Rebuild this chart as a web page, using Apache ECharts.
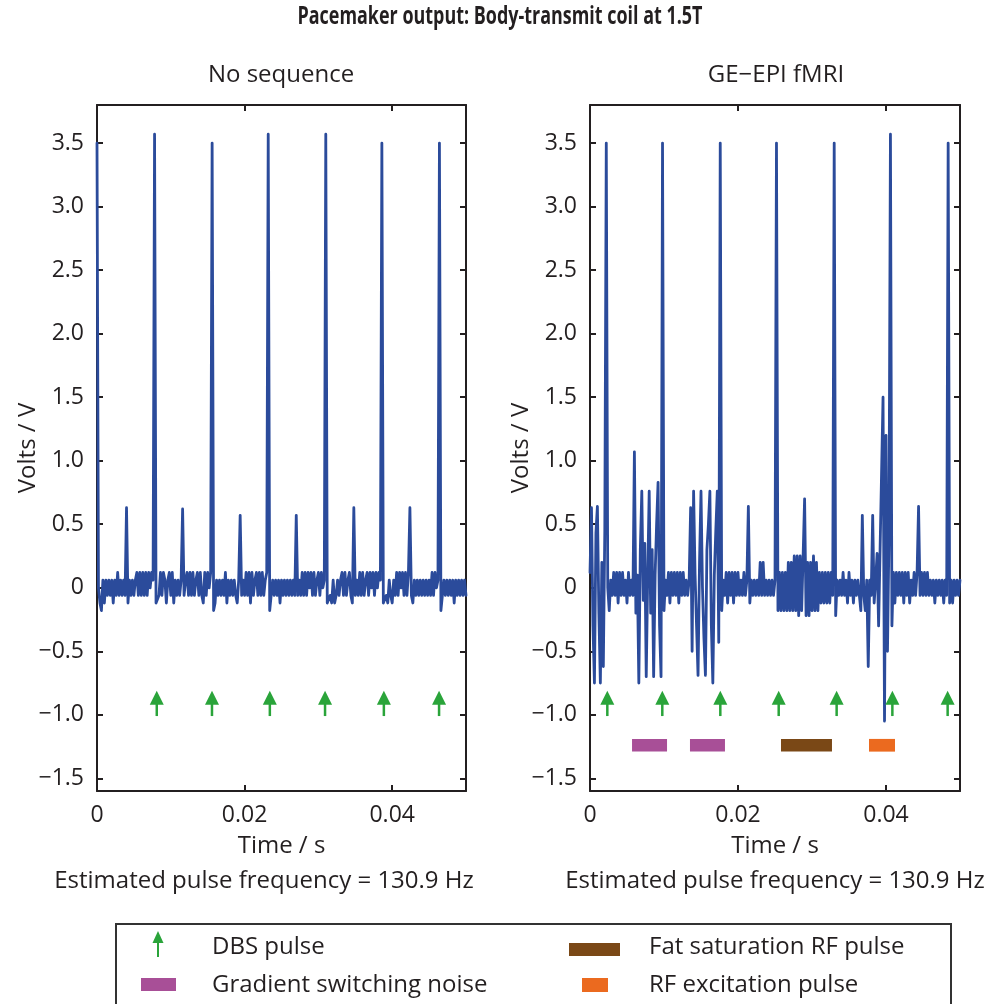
<!DOCTYPE html>
<html><head><meta charset="utf-8">
<script src="https://cdn.jsdelivr.net/npm/echarts@6/dist/echarts.min.js"></script>
<style>html,body{margin:0;padding:0;background:#fff}#c{width:1000px;height:1004px}</style>
</head><body><div id="c"></div>
<script>
// sampling interval of the recorded traces (s)
const DT = 0.0002;
const xTicks = [0, 0.02, 0.04];
const yTicks = [-1.5, -1, -0.5, 0, 0.5, 1, 1.5, 2, 2.5, 3, 3.5];

// Pacemaker output, no sequence (V), one value per sample
const voltsNoSeq = [
 3.5, 0.0, -0.12, -0.18, 0.06, -0.12, 0.06, -0.06, 0.06, -0.06,
 0.06, -0.12, 0.06, -0.06, 0.12, -0.06, 0.06, -0.06, 0.06, -0.06,
 0.63, -0.12, 0.06, -0.06, 0.06, -0.06, 0.06, 0.12, -0.06, 0.12,
 -0.06, 0.12, -0.06, 0.12, -0.06, 0.12, 0.0, 0.12, 0.06, 3.57,
 -0.12, -0.12, -0.06, 0.12, -0.06, 0.12, 0.06, -0.12, 0.06, 0.12,
 -0.06, 0.12, -0.12, 0.06, -0.06, 0.06, -0.06, 0.06, 0.62, -0.06,
 0.06, 0.12, -0.06, 0.12, -0.06, 0.12, -0.06, 0.06, 0.12, -0.06,
 0.12, -0.06, -0.12, 0.12, -0.06, 0.12, 0.0, 0.12, 3.5, -0.18,
 -0.12, 0.06, -0.06, 0.06, -0.06, 0.06, -0.06, 0.12, -0.12, 0.06,
 -0.06, 0.06, -0.06, 0.06, -0.06, -0.12, 0.06, 0.57, -0.06, 0.06,
 -0.06, 0.12, -0.06, 0.12, -0.12, 0.12, -0.06, 0.06, 0.12, -0.06,
 0.12, -0.06, 0.12, -0.06, 0.06, 0.12, 3.57, -0.18, -0.06, 0.06,
 -0.06, 0.06, -0.06, 0.06, -0.12, 0.06, -0.06, 0.06, -0.06, 0.06,
 -0.06, 0.06, -0.06, 0.06, -0.06, 0.57, -0.06, 0.06, -0.06, 0.12,
 -0.06, 0.12, -0.06, 0.12, 0.0, 0.12, -0.06, 0.12, -0.06, 0.06,
 0.12, -0.06, 0.12, 0.0, 0.06, 3.57, -0.12, -0.12, -0.06, -0.12,
 0.06, -0.12, -0.06, 0.06, -0.06, 0.06, 0.12, -0.06, 0.12, -0.06,
 0.06, 0.12, -0.06, -0.12, 0.63, -0.06, 0.06, -0.06, 0.12, -0.06,
 0.12, -0.06, 0.06, 0.12, -0.06, 0.12, 0.0, 0.12, -0.06, 0.12,
 0.0, 0.12, 0.06, 3.5, -0.12, -0.12, -0.06, -0.12, 0.06, -0.06,
 -0.12, 0.06, -0.06, 0.12, -0.06, 0.12, 0.0, 0.12, -0.06, 0.12,
 -0.06, 0.12, 0.63, -0.06, -0.12, 0.06, -0.06, 0.06, -0.06, 0.06,
 -0.06, 0.06, -0.06, 0.06, -0.06, 0.06, -0.06, 0.12, -0.06, 0.12,
 0.0, 0.06, 3.5, -0.18, -0.06, 0.06, -0.06, 0.06, -0.06, 0.06,
 -0.06, 0.06, -0.12, 0.06, -0.06, 0.06, -0.06, 0.06, -0.06, 0.06, -0.06
];

// Pacemaker output during GE-EPI fMRI (V), one value per sample
const voltsEpi = [
 0.12, 0.63, -0.3, -0.75, 0.43, 0.64, -0.2, -0.75, 0.2, -0.62,
 0.45, 3.5, 0.0, -0.18, 0.06, -0.06, 0.12, -0.06, 0.12, -0.12,
 0.12, -0.06, 0.12, -0.06, 0.06, -0.12, 0.12, -0.06, 0.06, -0.06,
 1.07, -0.2, 0.1, -0.75, 0.3, 0.76, -0.1, 0.35, -0.7, 0.1,
 0.76, -0.2, 0.3, -0.7, 0.1, 0.5, 0.83, -0.3, -0.7, 3.5,
 -0.18, 0.06, -0.06, 0.12, -0.12, 0.12, -0.06, 0.12, -0.06, 0.12,
 -0.12, 0.12, -0.06, 0.12, -0.06, 0.06, -0.06, 0.06, 0.63, -0.5,
 0.76, 0.1, -0.3, -0.69, 0.2, 0.76, 0.0, -0.4, -0.69, 0.3,
 0.5, 0.76, -0.3, -0.75, 0.1, 0.45, 0.76, -0.43, 3.5, -0.18,
 0.06, -0.06, 0.12, -0.12, 0.12, -0.06, 0.12, -0.12, 0.12, -0.06,
 0.12, -0.06, 0.06, -0.06, 0.12, -0.06, 0.06, 0.64, -0.12, 0.06,
 -0.06, 0.06, -0.06, 0.06, -0.06, 0.2, -0.06, 0.2, -0.06, 0.06,
 -0.06, 0.06, -0.06, 0.06, -0.06, 0.06, 3.5, -0.18, 0.12, -0.18,
 0.12, -0.18, 0.12, -0.18, 0.2, -0.18, 0.2, -0.18, 0.25, -0.18,
 0.25, -0.22, 0.25, -0.18, 0.25, 0.7, -0.22, 0.2, -0.22, 0.2,
 -0.18, 0.25, -0.18, 0.2, -0.18, 0.12, -0.12, 0.12, -0.12, 0.12,
 -0.12, 0.12, -0.12, 0.12, -0.06, 3.5, -0.22, 0.06, -0.06, 0.06,
 -0.06, 0.12, -0.06, 0.06, -0.12, 0.12, -0.06, 0.06, -0.12, 0.06,
 -0.06, 0.06, -0.06, -0.18, 0.57, -0.06, -0.18, 0.06, -0.62, 0.06,
 -0.06, 0.57, -0.12, 0.06, 0.27, -0.3, 0.3, 0.9, 1.5, -1.05,
 1.2, -0.5, 0.4, 3.57, -0.3, 0.12, -0.12, 0.12, -0.06, 0.12,
 -0.06, 0.12, -0.12, 0.12, -0.06, 0.12, -0.12, 0.06, -0.06, 0.12,
 -0.06, 0.12, 0.64, -0.06, 0.12, -0.06, 0.12, -0.06, 0.12, -0.06,
 0.06, -0.06, 0.06, -0.12, 0.06, -0.06, 0.06, -0.06, 0.06, -0.12,
 0.06, -0.06, 3.5, -0.12, 0.06, -0.12, 0.06, -0.06, 0.06, -0.06, 0.06
];

// DBS pulse times (s)
const dbsNoSeq = [0.0081, 0.01558, 0.02342, 0.0309, 0.03887, 0.04635];
const dbsEpi = [0.00234, 0.00977, 0.01761, 0.0255, 0.03333, 0.04086, 0.04833];
// MRI events [start, end] (s)
const gradientNoise = [[0.00568, 0.01041], [0.01351, 0.01824]];
const fatSat = [[0.02581, 0.0327]];
const rfExcitation = [[0.0377, 0.04122]];

const ARROW_BASE = -1.01, ARROW_TIP = -0.81;
const BAR_TOP = -1.19, BAR_BOTTOM = -1.29;

const BLUE = '#2b4b9b', GREEN = '#2aa43a', PURPLE = '#a84f97', BROWN = '#7a4816', ORANGE = '#eb6a1f', INK = '#231f20';
const FONT = '"Open Sans", "Noto Sans", sans-serif';
const FS = 23;
const FS2 = 24;

const toPairs = arr => arr.map((v, i) => [+(i * DT).toFixed(5), v]);
const fmtY = v => v === 0 ? '0' : (v < 0 ? '\u2212' : '') + Math.abs(v).toFixed(1);
const fmtX = v => v === 0 ? '0' : String(+v.toFixed(3));

function xAx(g, pos) {
  const bottom = pos === 'bottom';
  return {
    gridIndex: g, type: 'value', min: 0, max: 0.05, position: pos,
    axisLine: { show: true, onZero: false, lineStyle: { color: INK, width: 2 } },
    axisTick: { show: true, inside: true, length: 6, customValues: xTicks, lineStyle: { color: INK, width: 2 } },
    axisLabel: { show: bottom, customValues: xTicks, formatter: fmtX, margin: 13, fontSize: FS, fontFamily: FONT, color: INK },
    splitLine: { show: false },
    name: bottom ? 'Time / s' : '', nameLocation: 'middle', nameGap: 43, nameMoveOverlap: false,
    nameTextStyle: { fontSize: FS2, fontFamily: FONT, color: INK }
  };
}
function yAx(g, pos) {
  const left = pos === 'left';
  return {
    gridIndex: g, type: 'value', min: -1.6, max: 3.8, position: pos,
    axisLine: { show: true, onZero: false, lineStyle: { color: INK, width: 2 } },
    axisTick: { show: true, inside: true, length: 6, customValues: yTicks, lineStyle: { color: INK, width: 2 } },
    axisLabel: { show: left, customValues: yTicks, formatter: fmtY, margin: 13, fontSize: FS, fontFamily: FONT, color: INK },
    splitLine: { show: false },
    name: left ? 'Volts / V' : '', nameLocation: 'middle', nameGap: 57, nameRotate: 90, nameMoveOverlap: false,
    nameTextStyle: { fontSize: FS2, fontFamily: FONT, color: INK }
  };
}

function arrowSeries(times, xi, yi) {
  return {
    type: 'custom', xAxisIndex: xi, yAxisIndex: yi, data: times.map(t => [t]), z: 5,
    renderItem: (params, api) => {
      const t = api.value(0);
      const b = api.coord([t, ARROW_BASE]), tp = api.coord([t, ARROW_TIP]);
      return { type: 'group', children: [
        { type: 'line', shape: { x1: b[0], y1: b[1], x2: tp[0], y2: tp[1] + 10 }, style: { stroke: GREEN, lineWidth: 2.5 } },
        { type: 'polygon', shape: { points: [[tp[0], tp[1]], [tp[0] - 7, tp[1] + 14], [tp[0] + 7, tp[1] + 14]] }, style: { fill: GREEN } }
      ]};
    }
  };
}
function barSeries(spans, color, xi, yi) {
  return {
    type: 'custom', xAxisIndex: xi, yAxisIndex: yi, data: spans, z: 5,
    renderItem: (params, api) => {
      const a = api.coord([api.value(0), BAR_TOP]), b = api.coord([api.value(1), BAR_BOTTOM]);
      return { type: 'rect', shape: { x: a[0], y: a[1], width: b[0] - a[0], height: b[1] - a[1] }, style: { fill: color } };
    }
  };
}

function txt(text, x, y, font, align, scaleX) {
  return { type: 'text', x, y, scaleX: scaleX || 1, style: { text, font, fill: INK, align: align || 'center', verticalAlign: 'middle', textAlign: align || 'center', textVerticalAlign: 'middle' } };
}

// condensed-looking bold title: measure and squeeze to the reference width
const TITLE = 'Pacemaker output: Body-transmit coil at 1.5T';
const TITLE_SIZE = 25;
const mctx = document.createElement('canvas').getContext('2d');
mctx.font = 'bold ' + TITLE_SIZE + 'px "Open Sans"';
const titleScale = Math.min(1, 405 / mctx.measureText(TITLE).width);

const legendFont = FS2 + 'px ' + FONT;
const graphic = [
  { type: 'text', x: 500, y: 17, scaleX: titleScale, style: { text: TITLE, fontSize: TITLE_SIZE, fontWeight: 'bold', fontFamily: '"Open Sans"', fill: INK, align: 'center', verticalAlign: 'middle', textAlign: 'center', textVerticalAlign: 'middle' } },
  txt('No sequence', 281, 75, FS2 + 'px ' + FONT),
  txt('GE\u2212EPI fMRI', 776, 75, FS2 + 'px ' + FONT),
  txt('Estimated pulse frequency = 130.9 Hz', 264, 881, FS2 + 'px ' + FONT),
  txt('Estimated pulse frequency = 130.9 Hz', 775, 881, FS2 + 'px ' + FONT),
  { type: 'rect', shape: { x: 116, y: 924, width: 835, height: 100 }, style: { fill: 'none', stroke: '#333', lineWidth: 2 } },
  { type: 'line', shape: { x1: 158, y1: 957, x2: 158, y2: 940 }, style: { stroke: GREEN, lineWidth: 2 } },
  { type: 'polygon', shape: { points: [[158, 931], [152.5, 943], [163.5, 943]] }, style: { fill: GREEN } },
  txt('DBS pulse', 212, 947, legendFont, 'left'),
  { type: 'rect', shape: { x: 141, y: 978, width: 35, height: 13 }, style: { fill: PURPLE } },
  txt('Gradient switching noise', 212, 985, legendFont, 'left'),
  { type: 'rect', shape: { x: 569, y: 943, width: 51, height: 13 }, style: { fill: BROWN } },
  txt('Fat saturation RF pulse', 649, 947, legendFont, 'left'),
  { type: 'rect', shape: { x: 582, y: 978, width: 26, height: 14 }, style: { fill: ORANGE } },
  txt('RF excitation pulse', 649, 985, legendFont, 'left')
];

const chart = echarts.init(document.getElementById('c'), null, { renderer: 'canvas' });
chart.setOption({
  animation: false,
  backgroundColor: '#fff',
  grid: [
    { left: 97, top: 105, width: 369, height: 686 },
    { left: 590, top: 105, width: 370, height: 686 }
  ],
  xAxis: [xAx(0, 'bottom'), xAx(0, 'top'), xAx(1, 'bottom'), xAx(1, 'top')],
  yAxis: [yAx(0, 'left'), yAx(0, 'right'), yAx(1, 'left'), yAx(1, 'right')],
  series: [
    { type: 'line', xAxisIndex: 0, yAxisIndex: 0, data: toPairs(voltsNoSeq), showSymbol: false, symbol: 'none', lineStyle: { color: BLUE, width: 2.8, join: 'round', cap: 'round' }, z: 3 },
    { type: 'line', xAxisIndex: 2, yAxisIndex: 2, data: toPairs(voltsEpi), showSymbol: false, symbol: 'none', lineStyle: { color: BLUE, width: 2.8, join: 'round', cap: 'round' }, z: 3 },
    arrowSeries(dbsNoSeq, 0, 0),
    arrowSeries(dbsEpi, 2, 2),
    barSeries(gradientNoise, PURPLE, 2, 2),
    barSeries(fatSat, BROWN, 2, 2),
    barSeries(rfExcitation, ORANGE, 2, 2)
  ],
  graphic
});
</script></body></html>
